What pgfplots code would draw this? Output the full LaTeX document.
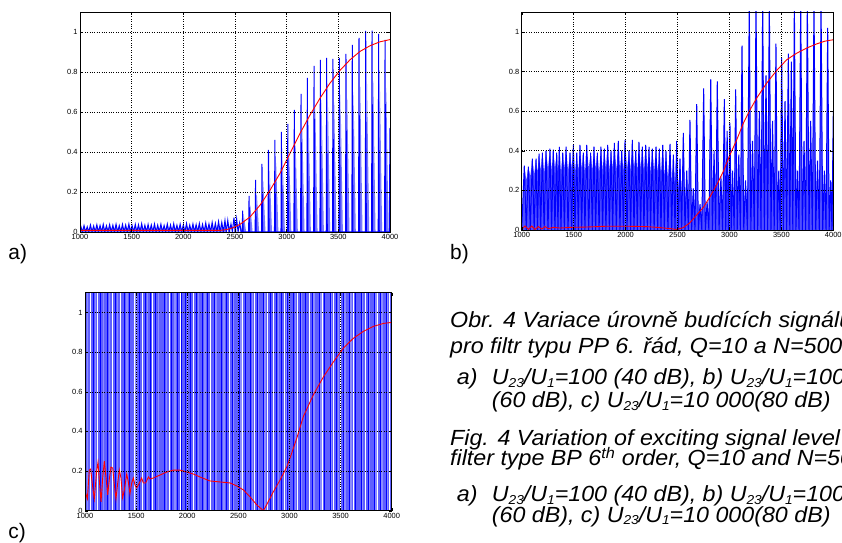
\documentclass[border=0pt]{standalone}
\usepackage{fontspec}
\setmainfont{Liberation Sans}
\usepackage{pgfplots}
\pgfplotsset{compat=1.18}

\definecolor{sigblue}{RGB}{0,0,255}
\definecolor{haze}{RGB}{120,120,255}
\definecolor{midblue}{RGB}{80,80,255}
\definecolor{cblue}{RGB}{95,95,255}
\definecolor{paleblue}{RGB}{140,140,255}
\definecolor{envred}{RGB}{255,0,0}

\pgfplotsset{
  panel/.style={
    scale only axis,
    anchor=south west,
    xmin=1000, xmax=4000, ymin=0, ymax=1.1,
    xtick={1000,1500,2000,2500,3000,3500,4000},
    xticklabels={1000,1500,2000,2500,3000,3500,4000},
    ytick={0,0.2,0.4,0.6,0.8,1},
    yticklabels={0,0.2,0.4,0.6,0.8,1},
    grid=major,
    grid style={black, dotted, line width=0.5pt},
    tick align=inside,
    major tick length=3bp,
    tick style={black, line width=0.4pt},
    axis line style={black, line width=0.6pt},
    ticklabel style={font=\fontsize{7.5}{8}\selectfont},
    xticklabel style={inner sep=1.2pt, yshift=-1.2bp},
    yticklabel style={inner sep=2.2pt},
    axis on top,
  },
  env/.style={envred, line width=0.9bp},
}

\newcommand{\capfont}{\fontsize{22}{26}\selectfont\itshape}
\newcommand{\sub}[1]{\raisebox{-0.12em}{\fontsize{13}{13}\selectfont #1}}
\newcommand{\ratio}[1]{U\sub{23}/U\sub{1}=#1}

\begin{document}
\begin{tikzpicture}
\clip (0,0) rectangle (842bp,543bp);

% ---------------- a) 40 dB ----------------
\begin{axis}[panel, at={(80bp,311bp)}, width=310bp, height=220bp]
% low-level carrier ripple, shaded underneath
\addplot[fill=haze, draw=none] coordinates {
 (1000,0)(1008,0.024)(1023,0.012)(1039,0.027)(1054,0.012)(1070,0.022)(1085,0.012)(1101,0.030)
 (1116,0.012)(1132,0.026)(1147,0.012)(1163,0.031)(1178,0.012)(1194,0.028)(1209,0.012)
 (1225,0.032)(1240,0.012)(1256,0.027)(1271,0.012)(1287,0.031)(1302,0.012)(1318,0.029)
 (1333,0.012)(1349,0.033)(1364,0.012)(1380,0.027)(1395,0.012)(1411,0.032)(1426,0.012)
 (1442,0.030)(1457,0.012)(1473,0.034)(1488,0.012)(1504,0.028)(1519,0.012)(1535,0.032)
 (1550,0.012)(1566,0.030)(1581,0.012)(1597,0.035)(1612,0.012)(1628,0.029)(1643,0.012)
 (1659,0.032)(1674,0.012)(1690,0.030)(1705,0.012)(1721,0.034)(1736,0.012)(1752,0.029)
 (1767,0.012)(1783,0.033)(1798,0.012)(1814,0.028)(1829,0.012)(1845,0.034)(1860,0.012)
 (1876,0.030)(1891,0.012)(1907,0.035)(1922,0.012)(1938,0.029)(1953,0.012)(1969,0.033)
 (1984,0.012)(2000,0.031)(2015,0.012)(2031,0.036)(2046,0.012)(2062,0.030)(2077,0.012)
 (2093,0.034)(2108,0.012)(2124,0.031)(2139,0.012)(2155,0.037)(2170,0.012)(2186,0.032)
 (2201,0.012)(2217,0.038)(2232,0.012)(2248,0.034)(2263,0.012)(2279,0.041)(2294,0.012)
 (2310,0.037)(2325,0.012)(2341,0.044)(2356,0.012)(2372,0.041)(2387,0.012)(2403,0.049)
 (2416,0)(2432,0)(2440,0.042)(2455,0)(2492,0)(2500,0.052)(2515,0)(2547,0)(2555,0.035)(2570,0)
% pale tails behind each burst
 (2576,0)(2586,0.080)(2608,0)(2638,0)(2648,0.135)(2670,0)(2701,0)(2711,0.195)(2733,0)
 (2763,0)(2773,0.255)(2795,0)(2826,0)(2836,0.307)(2858,0)(2888,0)(2898,0.345)(2920,0)
 (2951,0)(2961,0.375)(2983,0)(3013,0)(3023,0.405)(3045,0)(3076,0)(3086,0.457)(3108,0)
 (3141,0)(3151,0.517)(3173,0)(3202,0)(3212,0.577)(3234,0)(3267,0)(3277,0.622)(3299,0)
 (3328,0)(3338,0.645)(3360,0)(3389,0)(3399,0.652)(3421,0)(3450,0)(3460,0.648)(3482,0)
 (3512,0)(3522,0.652)(3544,0)(3576,0)(3586,0.667)(3608,0)(3637,0)(3647,0.701)(3669,0)
 (3702,0)(3712,0.727)(3734,0)(3767,0)(3777,0.753)(3799,0)(3828,0)(3838,0.755)(3860,0)
 (3892,0)(3902,0.742)(3924,0)(3954,0)(3964,0.720)(3986,0)(4000,0)
} \closedcycle;
% carrier bursts
\addplot[sigblue, line width=1bp] coordinates {
 (1000,0)(1008,0.028)(1023,0)(1039,0.032)(1054,0)(1070,0.026)(1085,0)(1101,0.035)(1116,0)
 (1132,0.030)(1147,0)(1163,0.036)(1178,0)(1194,0.033)(1209,0)(1225,0.038)(1240,0)
 (1256,0.031)(1271,0)(1287,0.037)(1302,0)(1318,0.034)(1333,0)(1349,0.039)(1364,0)
 (1380,0.032)(1395,0)(1411,0.038)(1426,0)(1442,0.035)(1457,0)(1473,0.040)(1488,0)
 (1504,0.033)(1519,0)(1535,0.038)(1550,0)(1566,0.036)(1581,0)(1597,0.041)(1612,0)
 (1628,0.034)(1643,0)(1659,0.038)(1674,0)(1690,0.035)(1705,0)(1721,0.040)(1736,0)
 (1752,0.034)(1767,0)(1783,0.039)(1798,0)(1814,0.033)(1829,0)(1845,0.040)(1860,0)
 (1876,0.035)(1891,0)(1907,0.041)(1922,0)(1938,0.034)(1953,0)(1969,0.039)(1984,0)
 (2000,0.036)(2015,0)(2031,0.042)(2046,0)(2062,0.035)(2077,0)(2093,0.040)(2108,0)
 (2124,0.037)(2139,0)(2155,0.043)(2170,0)(2186,0.038)(2201,0)(2217,0.045)(2232,0)
 (2248,0.040)(2263,0)(2279,0.048)(2294,0)(2310,0.043)(2325,0)(2341,0.052)(2356,0)
 (2372,0.048)(2387,0)(2403,0.058)(2416,0)
 (2430,0.058)(2445,0)(2461,0.040)(2475,0)(2490,0.072)(2503,0)(2516,0.065)(2530,0)
 (2545,0.045)(2560,0)
 (2570,0)(2574,0.107)(2580,0)(2632,0)(2636,0.18)(2642,0)(2695,0)(2699,0.26)(2705,0)
 (2757,0)(2761,0.34)(2767,0)(2820,0)(2824,0.41)(2830,0)(2882,0)(2886,0.46)(2892,0)
 (2945,0)(2949,0.50)(2955,0)(3007,0)(3011,0.54)(3017,0)(3070,0)(3074,0.61)(3080,0)
 (3135,0)(3139,0.69)(3145,0)(3196,0)(3200,0.77)(3206,0)(3261,0)(3265,0.83)(3271,0)
 (3322,0)(3326,0.86)(3332,0)(3383,0)(3387,0.87)(3393,0)(3444,0)(3448,0.865)(3454,0)
 (3506,0)(3510,0.87)(3516,0)(3570,0)(3574,0.89)(3580,0)(3631,0)(3635,0.935)(3641,0)
 (3696,0)(3700,0.97)(3706,0)(3761,0)(3765,1.005)(3771,0)(3822,0)(3826,1.007)(3832,0)
 (3886,0)(3890,0.99)(3896,0)(3948,0)(3952,0.96)(3958,0)(3993,0)(4000,0.52)
};
% envelope
\addplot[env] coordinates {
 (1000,0.008)(2355,0.008)(2419,0.012)(2484,0.022)(2548,0.038)(2645,0.075)(2742,0.134)
 (2839,0.209)(2935,0.293)(3032,0.393)(3129,0.493)(3226,0.585)(3323,0.669)(3419,0.744)
 (3516,0.808)(3613,0.861)(3710,0.903)(3806,0.931)(3903,0.951)(4000,0.962)
};
\end{axis}

% ---------------- b) 60 dB ----------------
\begin{axis}[panel, at={(521.7bp,313bp)}, width=311.6bp, height=218bp]
% dense low-level carrier between the bursts
\addplot[fill=midblue, draw=none] coordinates {
 (1000,0)(1025,0.325)(1044,0.25)(1064,0.32)(1083,0.27)(1102,0.36)(1120,0.28)(1138,0.36)
 (1152,0.29)(1167,0.385)(1183,0.30)(1199,0.39)(1216,0.29)(1234,0.40)(1253,0.31)(1272,0.41)
 (1288,0.30)(1304,0.405)(1320,0.31)(1337,0.39)(1349,0.30)(1362,0.42)(1378,0.29)(1395,0.39)
 (1411,0.31)(1427,0.42)(1446,0.30)(1465,0.39)(1481,0.31)(1497,0.43)(1513,0.29)(1530,0.39)
 (1545,0.30)(1561,0.43)(1577,0.31)(1593,0.39)(1609,0.29)(1626,0.43)(1645,0.31)(1664,0.39)
 (1680,0.30)(1696,0.42)(1712,0.31)(1728,0.39)(1745,0.29)(1763,0.42)(1779,0.30)(1795,0.41)
 (1811,0.31)(1828,0.43)(1844,0.30)(1860,0.40)(1876,0.31)(1892,0.44)(1911,0.30)(1930,0.45)
 (1946,0.31)(1963,0.40)(1979,0.30)(1995,0.455)(2014,0.31)(2033,0.40)(2049,0.30)(2065,0.455)
 (2081,0.31)(2098,0.40)(2113,0.30)(2129,0.445)(2145,0.31)(2161,0.42)(2177,0.30)(2194,0.43)
 (2210,0.31)(2226,0.42)(2241,0.29)(2257,0.41)(2275,0.30)(2293,0.42)(2309,0.29)(2325,0.41)
 (2341,0.28)(2358,0.43)(2373,0.27)(2389,0.40)(2408,0.26)(2428,0.435)(2444,0.24)(2460,0.38)
 (2476,0.22)(2492,0.45)(2508,0.20)(2524,0.36)(2540,0.17)(2556,0.49)(2572,0.14)(2589,0.30)
 (2604,0.12)(2620,0.555)(2636,0.10)(2652,0.21)(2668,0.08)(2685,0.635)(2701,0.07)(2717,0.13)
 (2734,0.06)(2752,0.715)(2768,0.05)(2785,0.14)(2802,0.05)(2820,0.76)(2836,0.06)(2852,0.40)
 (2867,0.05)(2883,0.75)(2900,0.04)(2918,0.27)(2934,0.05)(2951,0.66)(2964,0.08)(2978,0.50)
 (2991,0.06)(3005,0.54)(3017,0.05)(3030,0.30)(3045,0.04)(3060,0.71)(3075,0.05)(3090,0.38)
 (3105,0.04)(3121,0.93)(3138,0.05)(3155,0.25)(3173,0.04)(3191,1.15)(3206,0.05)(3222,0.45)
 (3239,0.04)(3256,1.15)(3272,0.05)(3288,0.60)(3304,0.04)(3320,1.15)(3336,0.06)(3352,0.78)
 (3368,0.05)(3384,1.15)(3400,0.04)(3415,0.55)(3431,0.05)(3448,0.94)(3461,0.04)(3475,0.30)
 (3489,0.05)(3503,0.87)(3519,0.04)(3535,0.65)(3551,0.05)(3567,0.89)(3581,0.06)(3596,0.85)
 (3610,0.04)(3625,1.15)(3640,0.05)(3655,0.30)(3670,0.04)(3686,1.15)(3702,0.05)(3718,0.45)
 (3734,0.04)(3750,1.15)(3766,0.05)(3782,0.55)(3798,0.04)(3814,1.15)(3831,0.05)(3848,0.35)
 (3865,0.04)(3882,1.15)(3898,0.05)(3914,0.30)(3930,0.04)(3946,1.02)(3960,0.05)(3975,0.25)
 (3987,0.04)(4000,0.6)
} \closedcycle;
% carrier peaks
\addplot[sigblue, line width=1bp] coordinates {
 (1000,0)(1025,0.325)(1044,0)(1064,0.32)(1083,0)(1102,0.36)(1120,0)(1138,0.36)
 (1152,0)(1167,0.385)(1183,0)(1199,0.39)(1216,0)(1234,0.40)(1253,0)(1272,0.41)
 (1288,0)(1304,0.405)(1320,0)(1337,0.39)(1349,0)(1362,0.42)(1378,0)(1395,0.39)
 (1411,0)(1427,0.42)(1446,0)(1465,0.39)(1481,0)(1497,0.43)(1513,0)(1530,0.39)
 (1545,0)(1561,0.43)(1577,0)(1593,0.39)(1609,0)(1626,0.43)(1645,0)(1664,0.39)
 (1680,0)(1696,0.42)(1712,0)(1728,0.39)(1745,0)(1763,0.42)(1779,0)(1795,0.41)
 (1811,0)(1828,0.43)(1844,0)(1860,0.40)(1876,0)(1892,0.44)(1911,0)(1930,0.45)
 (1946,0)(1963,0.40)(1979,0)(1995,0.455)(2014,0)(2033,0.40)(2049,0)(2065,0.455)
 (2081,0)(2098,0.40)(2113,0)(2129,0.445)(2145,0)(2161,0.42)(2177,0)(2194,0.43)
 (2210,0)(2226,0.42)(2241,0)(2257,0.41)(2275,0)(2293,0.42)(2309,0)(2325,0.41)
 (2341,0)(2358,0.43)(2373,0)(2389,0.40)(2408,0)(2428,0.435)(2444,0)(2460,0.38)
 (2476,0)(2492,0.45)(2508,0)(2524,0.36)(2540,0)(2556,0.49)(2572,0)(2589,0.30)
 (2604,0)(2620,0.555)(2636,0)(2652,0.21)(2668,0)(2685,0.635)(2701,0)(2717,0.13)
 (2734,0)(2752,0.715)(2768,0)(2785,0.14)(2802,0)(2820,0.76)(2836,0)(2852,0.40)
 (2867,0)(2883,0.75)(2900,0)(2918,0.27)(2934,0)(2951,0.66)(2964,0)(2978,0.50)
 (2991,0)(3005,0.54)(3017,0)(3030,0.30)(3045,0)(3060,0.71)(3075,0)(3090,0.38)
 (3105,0)(3121,0.93)(3138,0)(3155,0.25)(3173,0)(3191,1.15)(3206,0)(3222,0.45)
 (3239,0)(3256,1.15)(3272,0)(3288,0.60)(3304,0)(3320,1.15)(3336,0)(3352,0.78)
 (3368,0)(3384,1.15)(3400,0)(3415,0.55)(3431,0)(3448,0.94)(3461,0)(3475,0.30)
 (3489,0)(3503,0.87)(3519,0)(3535,0.65)(3551,0)(3567,0.89)(3581,0)(3596,0.85)
 (3610,0)(3625,1.15)(3640,0)(3655,0.30)(3670,0)(3686,1.15)(3702,0)(3718,0.45)
 (3734,0)(3750,1.15)(3766,0)(3782,0.55)(3798,0)(3814,1.15)(3831,0)(3848,0.35)
 (3865,0)(3882,1.15)(3898,0)(3914,0.30)(3930,0)(3946,1.02)(3960,0)(3975,0.25)
 (3987,0)(4000,0.6)
};
% envelope
\addplot[env] coordinates {
 (1000,0.003)(1032,0.02)(1064,0.003)(1096,0.02)(1128,0.003)(1160,0.017)(1193,0.005)
 (1225,0.017)(1257,0.007)(1305,0.013)(1369,0.01)(1465,0.013)(1626,0.015)(1818,0.019)
 (2011,0.019)(2203,0.017)(2332,0.012)(2428,0.007)(2492,0.003)(2556,0.012)(2620,0.037)
 (2685,0.076)(2749,0.114)(2813,0.168)(2877,0.227)(2941,0.295)(3005,0.379)(3070,0.455)
 (3134,0.539)(3198,0.606)(3262,0.665)(3358,0.741)(3455,0.805)(3551,0.859)(3647,0.892)
 (3743,0.918)(3840,0.939)(3920,0.953)(4000,0.96)
};
\end{axis}

% ---------------- c) 80 dB ----------------
\begin{axis}[panel, at={(85bp,32.3bp)}, width=306.7bp, height=218bp]
% carrier fills the whole range
\addplot[fill=cblue, draw=none] coordinates {(1000,1.1)(4000,1.1)} \closedcycle;
\addplot[ycomb, paleblue, line width=1.4bp] coordinates {
 (1025,1.1)(1100,1.1)(1180,1.1)(1240,1.1)(1320,1.1)(1410,1.1)(1500,1.1)(1610,1.1)(1720,1.1)
 (1795,1.1)(1880,1.1)(2000,1.1)(2110,1.1)(2175,1.1)(2280,1.1)(2360,1.1)(2455,1.1)(2525,1.1)
 (2640,1.1)(2700,1.1)(2760,1.1)(2890,1.1)(2970,1.1)(3060,1.1)(3120,1.1)(3240,1.1)(3310,1.1)
 (3410,1.1)(3480,1.1)(3545,1.1)(3600,1.1)(3715,1.1)(3785,1.1)(3845,1.1)(3905,1.1)(3960,1.1)
};
\addplot[ycomb, white, line width=0.5bp] coordinates {
 (1049,1.1)(1120,1.1)(1267,1.1)(1349,1.1)(1479,1.1)(1560,1.1)(1658,1.1)(1822,1.1)(1936,1.1)
 (2060,1.1)(2230,1.1)(2412,1.1)(2540,1.1)(2660,1.1)(2780,1.1)(2840,1.1)(2950,1.1)(3075,1.1)
 (3195,1.1)(3320,1.1)(3430,1.1)(3500,1.1)(3620,1.1)(3740,1.1)(3860,1.1)(3975,1.1)
};
\addplot[ycomb, sigblue, line width=0.9bp] coordinates {
 (1007,1.1)(1081,1.1)(1153,1.1)(1218,1.1)(1300,1.1)(1381,1.1)(1437,1.1)(1528,1.1)(1593,1.1)
 (1642,1.1)(1691,1.1)(1773,1.1)(1844,1.1)(1903,1.1)(1942,1.1)(1985,1.1)(2027,1.1)(2090,1.1)
 (2150,1.1)(2196,1.1)(2262,1.1)(2330,1.1)(2385,1.1)(2440,1.1)(2508,1.1)(2570,1.1)(2622,1.1)
 (2690,1.1)(2745,1.1)(2810,1.1)(2868,1.1)(2925,1.1)(2985,1.1)(3040,1.1)(3105,1.1)(3160,1.1)
 (3222,1.1)(3290,1.1)(3345,1.1)(3400,1.1)(3462,1.1)(3530,1.1)(3590,1.1)(3650,1.1)(3705,1.1)
 (3770,1.1)(3830,1.1)(3890,1.1)(3948,1.1)(3995,1.1)
};
% envelope
\addplot[env] coordinates {
 (1000,0.10)(1023,0.06)(1042,0.205)(1055,0.21)(1075,0.12)(1091,0.06)(1114,0.20)(1127,0.245)
 (1140,0.155)(1157,0.045)(1173,0.165)(1189,0.25)(1205,0.17)(1222,0.08)(1238,0.16)(1254,0.22)
 (1271,0.215)(1287,0.13)(1303,0.06)(1320,0.14)(1336,0.205)(1352,0.165)(1368,0.065)(1385,0.105)
 (1408,0.185)(1424,0.145)(1440,0.085)(1457,0.14)(1473,0.165)(1489,0.13)(1505,0.115)(1532,0.14)
 (1554,0.165)(1571,0.14)(1593,0.14)(1620,0.17)(1636,0.16)(1668,0.165)(1734,0.18)(1799,0.195)
 (1864,0.205)(1929,0.205)(1995,0.195)(2060,0.185)(2125,0.17)(2223,0.15)(2321,0.145)
 (2419,0.14)(2484,0.125)(2549,0.105)(2614,0.07)(2679,0.03)(2745,0.0)(2777,0.03)(2842,0.095)
 (2908,0.155)(2973,0.22)(3005,0.265)(3071,0.365)(3136,0.475)(3234,0.585)(3332,0.675)
 (3429,0.75)(3527,0.82)(3625,0.87)(3723,0.905)(3821,0.93)(3919,0.945)(4000,0.95)
};
\end{axis}

% ---------------- panel letters ----------------
\begin{scope}[every node/.style={anchor=base west, inner sep=0, font=\fontsize{21}{24}\selectfont}]
\node at (8.3bp,283bp) {a)};
\node at (450bp,283.7bp) {b)};
\node at (8.3bp,4.7bp) {c)};
\end{scope}

% ---------------- caption ----------------
\begin{scope}[every node/.style={anchor=base west, inner sep=0, font=\capfont, xscale=1.06, transform shape}]
\node at (450bp,215.7bp) {Obr. 4 Variace úrovně budících signálů};
\node at (450bp,189.7bp) {pro filtr typu PP 6. řád, Q=10 a N=5000};
\node at (456.7bp,158bp) {a)};
\node at (491.7bp,158bp) {\ratio{100} (40 dB), b) \ratio{1000}};
\node at (491.7bp,135bp) {(60 dB), c) \ratio{10 000}(80 dB)};
\node at (450bp,97.3bp) {Fig. 4 Variation of exciting signal level for};
\node at (450bp,77bp) {filter type BP 6\textsuperscript{th} order, Q=10 and N=5000};
\node at (456.7bp,41bp) {a)};
\node at (491.7bp,41bp) {\ratio{100} (40 dB), b) \ratio{1000}};
\node at (491.7bp,21bp) {(60 dB), c) \ratio{10 000}(80 dB)};
\end{scope}
\end{tikzpicture}
\end{document}
